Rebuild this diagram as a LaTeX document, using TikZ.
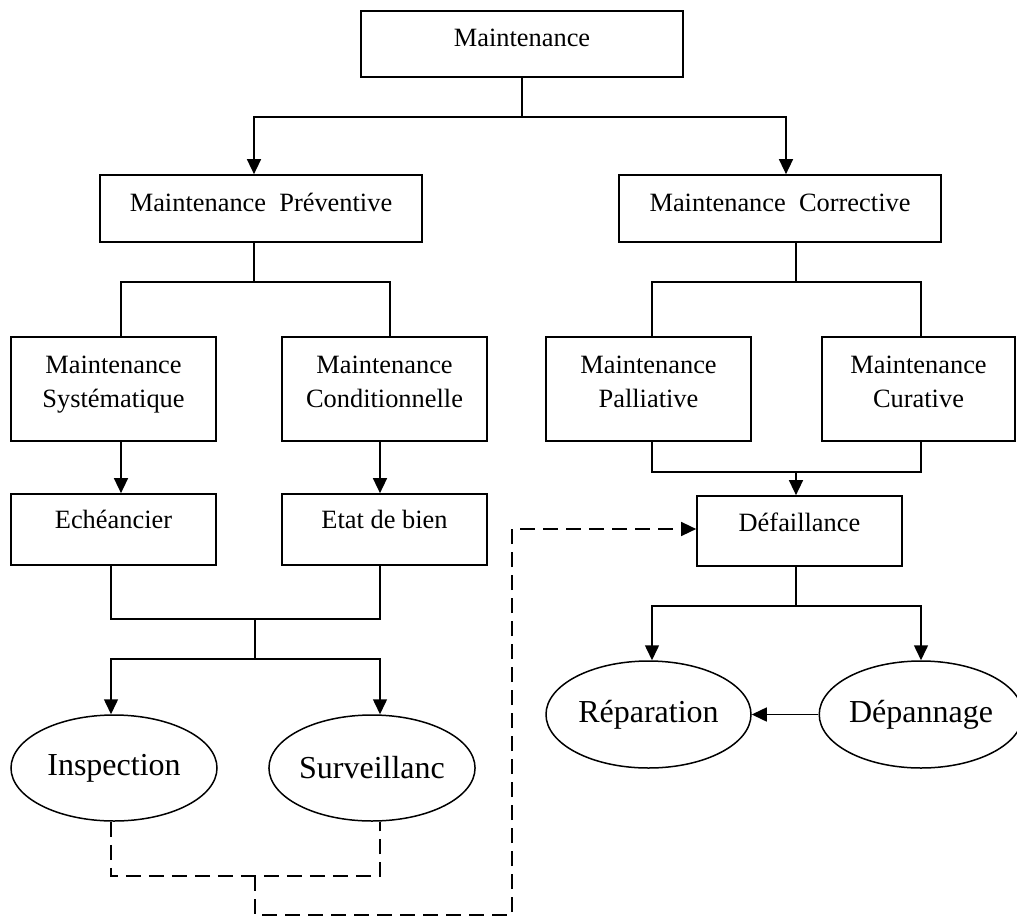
\documentclass[tikz,border=0pt]{standalone}
\usepackage{fontspec}
\setmainfont{Liberation Serif}
\usetikzlibrary{arrows.meta,shapes.geometric}
\newcommand{\bxfont}{\fontsize{26.4pt}{34pt}\selectfont}
\newcommand{\elfont}{\fontsize{32pt}{38pt}\selectfont}
\begin{document}
\begin{tikzpicture}[x=1pt,y=-1pt,
  box/.style={draw, line width=1.7pt, inner sep=0pt},
  txt/.style={font=\bxfont, align=center, inner sep=0pt},
  oval/.style={draw, ellipse, line width=1.5pt, inner sep=0pt, font=\elfont},
  con/.style={line width=1.5pt},
  arr/.style={con, -{Triangle[length=15pt,width=14pt]}},
  dsh/.style={dash pattern=on 15pt off 8pt}
]
\useasboundingbox (0,0) rectangle (1017,918);
\clip (0,0) rectangle (1017,918);

% boxes
\node[box, minimum width=322pt, minimum height=66pt] (M) at (522,44) {};
\node[box, minimum width=322pt, minimum height=67pt] (P) at (261,208.5) {};
\node[box, minimum width=322pt, minimum height=67pt] (C) at (780,208.5) {};
\node[box, minimum width=205pt, minimum height=104pt] (Sys) at (113.5,389) {};
\node[box, minimum width=205pt, minimum height=104pt] (Cond) at (384.5,389) {};
\node[box, minimum width=205pt, minimum height=104pt] (Pal) at (648.5,389) {};
\node[box, minimum width=193pt, minimum height=104pt] (Cur) at (918.5,389) {};
\node[box, minimum width=205pt, minimum height=71pt] (Ech) at (113.5,529.5) {};
\node[box, minimum width=205pt, minimum height=71pt] (Etat) at (384.5,529.5) {};
\node[box, minimum width=205pt, minimum height=70pt] (Def) at (799.5,531) {};

% texts
\node[txt] (tM) at (522,39.2) {Maintenance\strut};
\node[txt] (tP) at (261,204.2) {Maintenance~~Préventive\strut};
\node[txt] (tC) at (780,204.2) {Maintenance~~Corrective\strut};
\node[txt] (tSys) at (113.5,383.2) {Maintenance\strut\\Systématique\strut};
\node[txt] (tCond) at (384.5,383.2) {Maintenance\strut\\Conditionnelle\strut};
\node[txt] (tPal) at (648.5,383.2) {Maintenance\strut\\Palliative\strut};
\node[txt] (tCur) at (918.5,383.2) {Maintenance\strut\\Curative\strut};
\node[txt] (tEch) at (113.5,521.2) {Echéancier\strut};
\node[txt] (tEtat) at (384.5,521.2) {Etat de bien\strut};
\node[txt] (tDef) at (799.5,524.2) {Défaillance\strut};

% ellipses
\node[oval, minimum width=206pt, minimum height=106pt] (Insp) at (114,768) {Inspection};
\node[oval, minimum width=206pt, minimum height=106pt] (Surv) at (372,768) {Surveillanc};
\node[oval, minimum width=205pt, minimum height=107pt] (Rep) at (648.5,714.5) {Réparation};
\node[oval, minimum width=200pt, minimum height=107pt] (Dep) at (921,714.5) {Dépannage};

% junction points
\coordinate (j1) at (522,117);
\coordinate (j2) at (254,282);
\coordinate (j3) at (796,282);
\coordinate (j4) at (796,472);
\coordinate (j4a) at (652,472);
\coordinate (j4b) at (921,472);
\coordinate (j5) at (255,619);
\coordinate (j5a) at (111,619);
\coordinate (j5b) at (380,619);
\coordinate (j6) at (255,659);
\coordinate (j7) at (796,606);
\coordinate (d1) at (111,876);
\coordinate (d2) at (380,876);
\coordinate (d3) at (255,876);
\coordinate (d4) at (255,915);
\coordinate (d5) at (512,915);
\coordinate (d6) at (512,529);

% connectors
\draw[con] (M.south) -- (j1);
\draw[arr] (j1) -| ([xshift=-7pt]P.north);
\draw[arr] (j1) -| ([xshift=6pt]C.north);

\draw[con] ([xshift=-7pt]P.south) -- (j2);
\draw[con] ([xshift=7.5pt]Sys.north) |- (j2) -| ([xshift=5.5pt]Cond.north);

\draw[con] ([xshift=16pt]C.south) -- (j3);
\draw[con] ([xshift=3.5pt]Pal.north) |- (j3) -| ([xshift=2.5pt]Cur.north);

\draw[arr] ([xshift=7.5pt]Sys.south) -- ([xshift=7.5pt]Ech.north);
\draw[arr] ([xshift=-4.5pt]Cond.south) -- ([xshift=-4.5pt]Etat.north);

\draw[con] ([xshift=3.5pt]Pal.south) -- (j4a) -- (j4b) -- ([xshift=2.5pt]Cur.south);
\draw[arr] (j4) -- ([xshift=-3.5pt]Def.north);

\draw[con] ([xshift=-2.5pt]Ech.south) -- (j5a) -- (j5b) -- ([xshift=-4.5pt]Etat.south);
\draw[con] (j5) -- (j6);
\draw[arr] (j6) -| ([xshift=-3pt]Insp.north);
\draw[arr] (j6) -| ([xshift=8pt]Surv.north);

\draw[con] ([xshift=-3.5pt]Def.south) -- (j7);
\draw[arr] (j7) -| ([xshift=3.5pt]Rep.north);
\draw[arr] (j7) -| (Dep.north);
\draw[arr] (Dep.west) -- (Rep.east);

% dashed links
\draw[con, dsh] ([xshift=-3pt]Insp.south) -- (d1) -- (d2) -- ([xshift=8pt]Surv.south);
\draw[arr, dsh] (d3) -- (d4) -- (d5) -- (d6) -- (Def.west |- d6);
\end{tikzpicture}
\end{document}
